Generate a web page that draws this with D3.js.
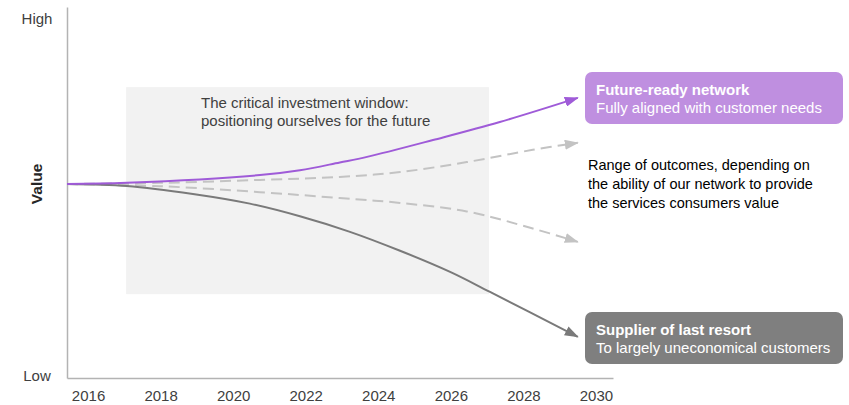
<!DOCTYPE html>
<html>
<head>
<meta charset="utf-8">
<script src="https://cdn.jsdelivr.net/npm/d3@7"></script>
<style>
  html, body { margin: 0; padding: 0; background: #fff; }
  svg { display: block; font-family: "Liberation Sans", Arial, sans-serif; }
</style>
</head>
<body>
<svg id="chart" width="849" height="405"></svg>
<script>
// Year ticks along the horizontal axis
const yearTicks = [2016, 2018, 2020, 2022, 2024, 2026, 2028, 2030];

// Scenario paths: year and relative value (0 = Low, 100 = High)
const futureYears = [2015.42, 2017.07, 2020.74, 2021.84, 2022.94, 2023.69, 2025.51, 2027.35, 2029.5];
const futureValues = [52.3, 52.64, 54.7, 56.0, 58.1, 59.6, 64.15, 69.0, 75.5];

const upperYears = [2015.42, 2017.98, 2020.74, 2022.94, 2024.6, 2026.44, 2028.26, 2029.5];
const upperValues = [52.3, 52.6, 53.4, 54.2, 55.5, 58.2, 61.5, 63.4];

const lowerYears = [2015.42, 2017.98, 2020.74, 2022.94, 2024.6, 2026.44, 2028.26, 2029.5];
const lowerValues = [52.3, 51.7, 50.1, 48.5, 47.2, 44.9, 40.3, 36.7];

const resortYears = [2015.42, 2017.07, 2018.89, 2020.46, 2021.84, 2023.22, 2024.6, 2025.98, 2027.08, 2029.5];
const resortValues = [52.3, 51.75, 49.6, 47.0, 43.6, 39.4, 34.3, 28.6, 23.2, 11.1];

// Investment window span
const windowYears = [2017.05, 2027.05];
const windowValues = [22.6, 78.4];

// Axis end labels
const valueLabels = ["Low", "High"];

const svg = d3.select("#chart");

const x = d3.scaleLinear().domain([2015.42, 2030.47]).range([67, 613]);
const y = d3.scaleLinear().domain([0, 100]).range([378, 7]);

// Investment window shading
svg.append("rect")
  .attr("x", x(windowYears[0]))
  .attr("y", y(windowValues[1]))
  .attr("width", x(windowYears[1]) - x(windowYears[0]))
  .attr("height", y(windowValues[0]) - y(windowValues[1]))
  .attr("fill", "#f2f2f2");

svg.append("text")
  .attr("font-size", 15).attr("fill", "#404040")
  .selectAll("tspan")
  .data(["The critical investment window:", "positioning ourselves for the future"])
  .join("tspan")
  .attr("x", 201)
  .attr("y", (d, i) => 108 + i * 18)
  .text(d => d);

// Axes
const xAxis = d3.axisBottom(x)
  .tickValues(yearTicks)
  .tickFormat(d3.format("d"))
  .tickSize(0)
  .tickSizeOuter(0);
const gx = svg.append("g").attr("transform", `translate(0,${y(0)})`).call(xAxis);
gx.select(".domain").attr("stroke", "#b3b3b3").attr("stroke-width", 1.5);
gx.selectAll("text")
  .attr("font-family", "Liberation Sans, Arial, sans-serif")
  .attr("font-size", 15).attr("fill", "#404040")
  .attr("dy", "1.3em");

const yAxis = d3.axisLeft(y).tickValues([]).tickSizeOuter(0);
const gy = svg.append("g").attr("transform", `translate(${x.range()[0]},0)`).call(yAxis);
gy.select(".domain").attr("stroke", "#b3b3b3").attr("stroke-width", 1.5);

svg.append("text").attr("x", 37).attr("y", y(0) + 3)
  .attr("text-anchor", "middle").attr("font-size", 15).attr("fill", "#404040")
  .text(valueLabels[0]);
svg.append("text").attr("x", 37).attr("y", y(100) + 17)
  .attr("text-anchor", "middle").attr("font-size", 15).attr("fill", "#404040")
  .text(valueLabels[1]);

svg.append("text")
  .attr("transform", `translate(37,${y(52.3)}) rotate(-90)`)
  .attr("text-anchor", "middle").attr("dy", "0.35em")
  .attr("font-size", 15.5).attr("font-weight", "bold").attr("fill", "#262626")
  .text("Value");

// Arrowheads
const defs = svg.append("defs");
function marker(id, color) {
  defs.append("marker")
    .attr("id", id)
    .attr("viewBox", "0 0 14 10")
    .attr("refX", 13).attr("refY", 5)
    .attr("markerWidth", 14).attr("markerHeight", 10)
    .attr("markerUnits", "userSpaceOnUse")
    .attr("orient", "auto")
    .append("path")
    .attr("d", "M0,0 L14,5 L0,10 Z")
    .attr("fill", color);
}
marker("arrow-purple", "#9f5bd8");
marker("arrow-light", "#c3c3c3");
marker("arrow-dark", "#7a7a7a");

const line = d3.line()
  .x(d => x(d[0]))
  .y(d => y(d[1]))
  .curve(d3.curveCatmullRom.alpha(0.5));

const series = [
  { years: upperYears, values: upperValues, color: "#c3c3c3", dash: "11,6", marker: "arrow-light" },
  { years: lowerYears, values: lowerValues, color: "#c3c3c3", dash: "11,6", marker: "arrow-light" },
  { years: resortYears, values: resortValues, color: "#7a7a7a", dash: null, marker: "arrow-dark" },
  { years: futureYears, values: futureValues, color: "#9f5bd8", dash: null, marker: "arrow-purple" }
];

svg.append("g").selectAll("path")
  .data(series)
  .join("path")
  .attr("d", s => line(s.years.map((yr, i) => [yr, s.values[i]])))
  .attr("fill", "none")
  .attr("stroke", s => s.color)
  .attr("stroke-width", 2)
  .attr("stroke-dasharray", s => s.dash)
  .attr("marker-end", s => `url(#${s.marker})`);

// Outcome callouts
function callout(top, fill, title, subtitle) {
  const g = svg.append("g");
  g.append("rect")
    .attr("x", 585).attr("y", top)
    .attr("width", 258).attr("height", 52)
    .attr("rx", 7).attr("fill", fill);
  g.append("text").attr("x", 596).attr("y", top + 23)
    .attr("font-size", 15).attr("font-weight", "bold").attr("fill", "#fff")
    .text(title);
  g.append("text").attr("x", 596).attr("y", top + 41)
    .attr("font-size", 15).attr("fill", "#fff")
    .text(subtitle);
}
callout(72, "#bf8fe0", "Future-ready network", "Fully aligned with customer needs");
callout(312, "#7f7f7f", "Supplier of last resort", "To largely uneconomical customers");

svg.append("text")
  .attr("font-size", 14.5).attr("fill", "#000")
  .selectAll("tspan")
  .data(["Range of outcomes, depending on", "the ability of our network to provide", "the services consumers value"])
  .join("tspan")
  .attr("x", 588)
  .attr("y", (d, i) => 170 + i * 19)
  .text(d => d);
</script>
</body>
</html>
